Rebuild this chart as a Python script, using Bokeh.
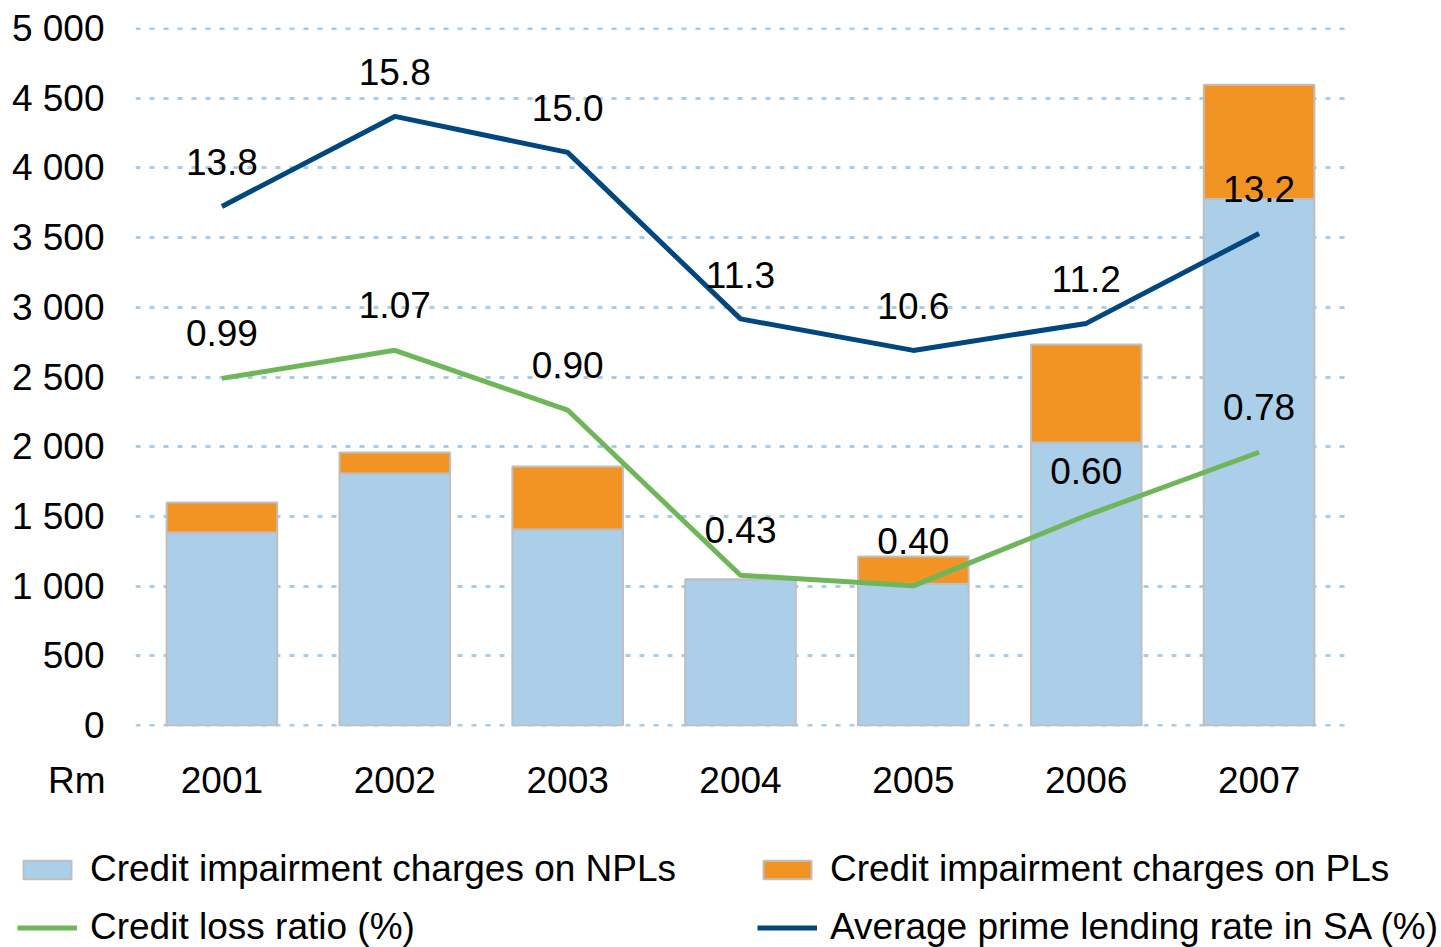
from bokeh.plotting import figure
from bokeh.layouts import column
from bokeh.models import (Range1d, FactorRange, FixedTicker, Legend, LegendItem,
                          Label, ColumnDataSource)
from bokeh.embed import file_html
from bokeh.resources import INLINE
from bokeh.core.properties import value

# ---- data ----
years = ["2001", "2002", "2003", "2004", "2005", "2006", "2007"]
npl = [1385, 1808, 1406, 1046, 1017, 2030, 3778]
pl = [215, 150, 452, 0, 195, 703, 820]
loss_ratio = [0.99, 1.07, 0.90, 0.43, 0.40, 0.60, 0.78]
prime_rate = [13.8, 15.8, 15.0, 11.3, 10.6, 11.2, 13.2]
y_ticks = [0, 500, 1000, 1500, 2000, 2500, 3000, 3500, 4000, 4500, 5000]
unit_label = "Rm"
series_names = ["Credit impairment charges on NPLs", "Credit impairment charges on PLs",
                "Credit loss ratio (%)", "Average prime lending rate in SA (%)"]

FONT = "Liberation Sans"
FS = "37px"
C_NPL = "#abcee9"
C_PL = "#f29423"
C_LOSS = "#6fb65a"
C_PRIME = "#00467f"
C_GRID = "#a9cce8"
C_EDGE = "#bfbfbf"

src = ColumnDataSource(dict(
    year=years,
    npl=npl,
    total=[a + b for a, b in zip(npl, pl)],
    loss=loss_ratio,
    prime=prime_rate,
    loss_lbl=[f"{v:.2f}" for v in loss_ratio],
    prime_lbl=[f"{v:.1f}" for v in prime_rate],
))

# ---------------- main chart ----------------
p = figure(width=1441, height=830,
           x_range=FactorRange(factors=years, range_padding=0),
           y_range=Range1d(-8, 5008),
           output_backend="svg", toolbar_location=None,
           min_border_left=135, min_border_right=96,
           min_border_top=27, min_border_bottom=104)
p.extra_y_ranges = {"loss": Range1d(0, 1.988), "prime": Range1d(2.242, 17.776)}

p.vbar(x="year", bottom=0, top="npl", width=0.64, source=src,
       fill_color=C_NPL, line_color=C_EDGE, line_width=2)
p.vbar(x="year", bottom="npl", top="total", width=0.64, source=src,
       fill_color=C_PL, line_color=C_EDGE, line_width=2)
p.line(x="year", y="loss", source=src, y_range_name="loss",
       line_color=C_LOSS, line_width=5)
p.line(x="year", y="prime", source=src, y_range_name="prime",
       line_color=C_PRIME, line_width=5)

p.text(x="year", y="loss", text="loss_lbl", source=src, y_range_name="loss",
       y_offset=-45, text_align="center", text_baseline="middle",
       text_font=value(FONT), text_font_size=FS, text_color="black")
p.text(x="year", y="prime", text="prime_lbl", source=src, y_range_name="prime",
       y_offset=-44, text_align="center", text_baseline="middle",
       text_font=value(FONT), text_font_size=FS, text_color="black")

p.xgrid.visible = False
p.ygrid.ticker = FixedTicker(ticks=y_ticks)
p.ygrid.grid_line_color = C_GRID
p.ygrid.grid_line_width = 3
p.ygrid.grid_line_dash = "5 9"
p.outline_line_color = None

p.yaxis.ticker = FixedTicker(ticks=y_ticks)
p.yaxis.major_label_overrides = {t: f"{t:,}".replace(",", " ") for t in y_ticks}
for ax in (p.xaxis[0], p.yaxis[0]):
    ax.axis_line_color = None
    ax.major_tick_line_color = None
    ax.minor_tick_line_color = None
    ax.major_tick_in = 0
    ax.major_tick_out = 0
    ax.major_label_text_font = FONT
    ax.major_label_text_font_size = FS
    ax.major_label_text_color = "black"
p.yaxis.major_label_standoff = 31
p.xaxis.major_label_standoff = 40

# unit label, in a side panel so that it is not clipped to the frame
p.add_layout(Label(x=-1240, y=-54, x_units="screen", y_units="screen",
                   text=unit_label, text_align="right", text_baseline="middle",
                   text_font=FONT, text_font_size=FS, text_color="black"), "right")

# ---------------- legend strip ----------------
lg = figure(width=1441, height=117, x_range=Range1d(0, 1), y_range=Range1d(0, 1),
            output_backend="svg", toolbar_location=None,
            x_axis_location=None, y_axis_location=None,
            min_border=0, min_border_left=0, min_border_right=0,
            min_border_top=0, min_border_bottom=0)
lg.frame_align = False
p.frame_align = False
lg.grid.visible = False
lg.outline_line_color = None
nan = float("nan")
k_npl = lg.vbar(x=[nan], top=[nan], width=0.1, fill_color=C_NPL, line_color=C_EDGE, line_width=2)
k_pl = lg.vbar(x=[nan], top=[nan], width=0.1, fill_color=C_PL, line_color=C_EDGE, line_width=2)
k_loss = lg.line(x=[nan], y=[nan], line_color=C_LOSS, line_width=5)
k_prime = lg.line(x=[nan], y=[nan], line_color=C_PRIME, line_width=5)

legend = Legend(items=[
    LegendItem(label=series_names[0], renderers=[k_npl]),
    LegendItem(label=series_names[1], renderers=[k_pl]),
    LegendItem(label=series_names[2], renderers=[k_loss]),
    LegendItem(label=series_names[3], renderers=[k_prime]),
], ncols=2, location=(17, -1), orientation="horizontal",
    border_line_color=None, background_fill_alpha=0, padding=0, margin=0,
    spacing=16, label_standoff=13, glyph_width=60, glyph_height=23,
    label_width=651, label_text_font=FONT, label_text_font_size=FS,
    label_text_color="black")
lg.add_layout(legend, "center")

open("out.html", "w").write(file_html(column(p, lg, spacing=0), INLINE))
